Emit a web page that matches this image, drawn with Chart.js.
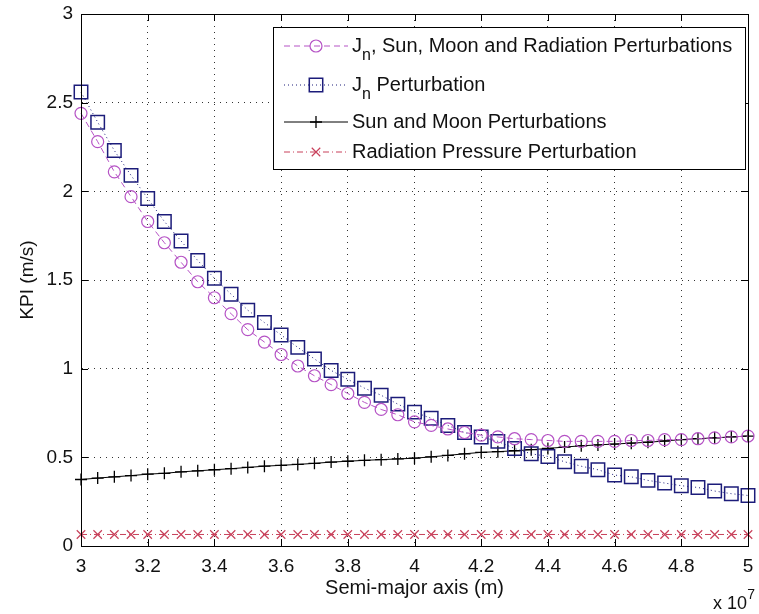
<!doctype html>
<html lang="en">
<head>
  <meta charset="utf-8">
  <title>KPI vs semi-major axis</title>
  <script src="https://cdn.jsdelivr.net/npm/chart.js"></script>
  <style>
    body { margin: 0; background: #fff; }
    canvas { display: block; }
  </style>
</head>
<body>
  <canvas id="chart" width="759" height="614"></canvas>

  <script>
    // semi-major axis, in units of 1e7 m
    const semiMajor = [3.00, 3.05, 3.10, 3.15, 3.20, 3.25, 3.30, 3.35, 3.40, 3.45,
                       3.50, 3.55, 3.60, 3.65, 3.70, 3.75, 3.80, 3.85, 3.90, 3.95,
                       4.00, 4.05, 4.10, 4.15, 4.20, 4.25, 4.30, 4.35, 4.40, 4.45,
                       4.50, 4.55, 4.60, 4.65, 4.70, 4.75, 4.80, 4.85, 4.90, 4.95, 5.00];

    // KPI (m/s)
    const jnSunMoonRad = [2.44, 2.28, 2.11, 1.97, 1.83, 1.71, 1.60, 1.49, 1.40, 1.31,
                          1.22, 1.15, 1.08, 1.015, 0.96, 0.91, 0.86, 0.81, 0.77, 0.74,
                          0.70, 0.68, 0.66, 0.64, 0.625, 0.615, 0.605, 0.60, 0.595, 0.59,
                          0.59, 0.59, 0.59, 0.595, 0.595, 0.60, 0.60, 0.605, 0.61, 0.615, 0.62];
    const jnOnly = [2.56, 2.39, 2.23, 2.09, 1.96, 1.83, 1.72, 1.61, 1.51, 1.42,
                    1.33, 1.26, 1.19, 1.12, 1.055, 0.99, 0.94, 0.89, 0.85, 0.80,
                    0.755, 0.72, 0.68, 0.64, 0.615, 0.59, 0.55, 0.52, 0.505, 0.475,
                    0.45, 0.43, 0.40, 0.39, 0.37, 0.355, 0.34, 0.33, 0.31, 0.295, 0.285];
    const sunMoon = [0.375, 0.383, 0.39, 0.397, 0.405, 0.41, 0.418, 0.424, 0.43, 0.436,
                     0.443, 0.45, 0.455, 0.46, 0.466, 0.473, 0.478, 0.483, 0.487, 0.491,
                     0.495, 0.503, 0.511, 0.52, 0.528, 0.532, 0.537, 0.543, 0.55, 0.558,
                     0.565, 0.57, 0.575, 0.58, 0.585, 0.592, 0.60, 0.605, 0.61, 0.615, 0.62];
    const radiation = [0.065, 0.065, 0.065, 0.065, 0.065, 0.065, 0.065, 0.065, 0.065, 0.065,
                       0.065, 0.065, 0.065, 0.065, 0.065, 0.065, 0.065, 0.065, 0.065, 0.065,
                       0.065, 0.065, 0.065, 0.065, 0.065, 0.065, 0.065, 0.065, 0.065, 0.065,
                       0.065, 0.065, 0.065, 0.065, 0.065, 0.065, 0.065, 0.065, 0.065, 0.065, 0.065];

    const seriesLabels = ['J_n, Sun, Moon and Radiation Perturbations', 'J_n Perturbation',
                          'Sun and Moon Perturbations', 'Radiation Pressure Perturbation'];

    const pts = arr => semiMajor.map((x, i) => ({ x: x, y: arr[i] }));
    const FONT = '"Liberation Sans", Arial, sans-serif';

    // legend, inward tick marks, axis box and the x 10^7 multiplier (MATLAB look)
    const matlabFrame = {
      id: 'matlabFrame',
      afterDraw(chart) {
        const ctx = chart.ctx;
        const a = chart.chartArea;
        const xs = chart.scales.x, ys = chart.scales.y;
        ctx.save();
        ctx.strokeStyle = '#000';
        ctx.lineWidth = 1;
        ctx.setLineDash([]);
        ctx.beginPath();
        xs.ticks.forEach(t => {
          const px = Math.round(xs.getPixelForValue(t.value)) + 0.5;
          ctx.moveTo(px, a.bottom); ctx.lineTo(px, a.bottom - 7);
          ctx.moveTo(px, a.top); ctx.lineTo(px, a.top + 7);
        });
        ys.ticks.forEach(t => {
          const py = Math.round(ys.getPixelForValue(t.value)) + 0.5;
          ctx.moveTo(a.left, py); ctx.lineTo(a.left + 7, py);
          ctx.moveTo(a.right, py); ctx.lineTo(a.right - 7, py);
        });
        ctx.stroke();
        ctx.strokeRect(Math.round(a.left) + 0.5, Math.round(a.top) + 0.5,
                       Math.round(a.right - a.left), Math.round(a.bottom - a.top));

        // legend box
        const lx = 273.5, ly = 27.5, lw = 472, lh = 142;
        ctx.fillStyle = '#fff';
        ctx.fillRect(lx, ly, lw, lh);
        ctx.strokeRect(lx, ly, lw, lh);
        const rowY = [46, 85, 122, 152];
        chart.data.datasets.forEach((ds, i) => {
          const y = rowY[i];
          ctx.strokeStyle = ds.borderColor;
          ctx.lineWidth = 1;
          ctx.setLineDash(ds.borderDash || []);
          ctx.beginPath();
          ctx.moveTo(284, y); ctx.lineTo(348, y);
          ctx.stroke();
          ctx.setLineDash([]);
          ctx.fillStyle = 'rgba(0,0,0,0)';
          ctx.lineWidth = ds.pointBorderWidth;
          Chart.helpers.drawPoint(ctx, {
            pointStyle: ds.pointStyle, radius: ds.pointRadius,
            rotation: 0, borderWidth: ds.pointBorderWidth
          }, 316, y);

          // text with the subscript n of J_n
          ctx.fillStyle = '#111';
          ctx.textBaseline = 'middle';
          ctx.textAlign = 'left';
          let tx = 352;
          const parts = ds.label.split('_');
          ctx.font = '20px ' + FONT;
          if (parts.length > 1) {
            ctx.fillText(parts[0], tx, y);
            tx += ctx.measureText(parts[0]).width;
            ctx.font = '16px ' + FONT;
            ctx.fillText(parts[1][0], tx, y + 10);
            tx += ctx.measureText(parts[1][0]).width;
            ctx.font = '20px ' + FONT;
            ctx.fillText(parts[1].slice(1), tx, y);
          } else {
            ctx.fillText(ds.label, tx, y);
          }
        });

        // axis multiplier
        ctx.fillStyle = '#111';
        ctx.textAlign = 'right';
        ctx.textBaseline = 'alphabetic';
        ctx.font = '14px ' + FONT;
        ctx.fillText('7', 755, 599);
        ctx.font = '18px ' + FONT;
        ctx.fillText('x 10', 747, 609);
        ctx.restore();
      }
    };

    new Chart(document.getElementById('chart'), {
      type: 'line',
      data: {
        datasets: [
          {
            label: seriesLabels[0],
            data: pts(jnSunMoonRad),
            borderColor: '#b552c5',
            borderWidth: 1,
            borderDash: [6, 4],
            pointStyle: 'circle',
            pointRadius: 6,
            pointBorderWidth: 1.2,
            pointBackgroundColor: 'rgba(0,0,0,0)',
            pointBorderColor: '#b552c5'
          },
          {
            label: seriesLabels[1],
            data: pts(jnOnly),
            borderColor: '#1c1c7a',
            borderWidth: 1,
            borderDash: [1, 3],
            pointStyle: 'rect',
            pointRadius: 9.5,
            pointBorderWidth: 1.5,
            pointBackgroundColor: 'rgba(0,0,0,0)',
            pointBorderColor: '#1c1c7a'
          },
          {
            label: seriesLabels[2],
            data: pts(sunMoon),
            borderColor: '#000',
            borderWidth: 1,
            pointStyle: 'cross',
            pointRadius: 6,
            pointBorderWidth: 1.3,
            pointBackgroundColor: 'rgba(0,0,0,0)',
            pointBorderColor: '#000'
          },
          {
            label: seriesLabels[3],
            data: pts(radiation),
            borderColor: '#c8405a',
            borderWidth: 1,
            borderDash: [6, 3, 1, 3],
            pointStyle: 'crossRot',
            pointRadius: 6,
            pointBorderWidth: 1.2,
            pointBackgroundColor: 'rgba(0,0,0,0)',
            pointBorderColor: '#c8405a'
          }
        ]
      },
      options: {
        responsive: false,
        animation: false,
        clip: false,
        layout: { padding: { top: 14, right: 4, left: 0, bottom: 0 } },
        plugins: { legend: { display: false }, tooltip: { enabled: false } },
        elements: { line: { tension: 0 } },
        scales: {
          x: {
            type: 'linear',
            min: 3, max: 5,
            ticks: {
              stepSize: 0.2,
              padding: 9,
              color: '#111',
              font: { family: FONT, size: 19 },
              maxRotation: 0,
              callback: v => String(Number(v.toFixed(1)))
            },
            grid: { color: '#333', lineWidth: 1, drawTicks: false },
            border: { display: true, color: '#000', dash: [1, 5] },
            title: {
              display: true, text: 'Semi-major axis (m)',
              color: '#111', font: { family: FONT, size: 20 },
              padding: { top: 0, bottom: 14 }
            },
            afterFit: s => { s.height = 68; s.paddingLeft = 0; s.paddingRight = 0; }
          },
          y: {
            min: 0, max: 3,
            ticks: {
              stepSize: 0.5,
              padding: 8,
              color: '#111',
              font: { family: FONT, size: 19 },
              callback: v => String(Number(v.toFixed(1)))
            },
            grid: { color: '#333', lineWidth: 1, drawTicks: false },
            border: { display: true, color: '#000', dash: [1, 5] },
            title: {
              display: true, text: 'KPI (m/s)',
              color: '#111', font: { family: FONT, size: 19 },
              padding: { top: 16, bottom: 0 }
            },
            afterFit: s => { s.width = 81; s.paddingTop = 0; s.paddingBottom = 0; }
          }
        }
      },
      plugins: [matlabFrame]
    });
  </script>
</body>
</html>
